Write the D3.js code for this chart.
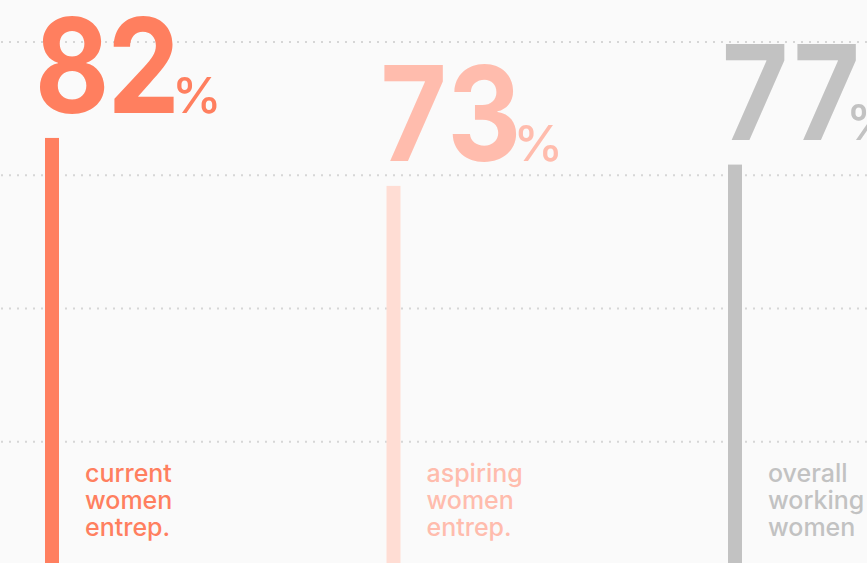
<!DOCTYPE html>
<html>
<head>
<meta charset="utf-8">
<script src="https://cdn.jsdelivr.net/npm/d3@7"></script>
<style>
  html, body { margin: 0; padding: 0; background: #fafafa; overflow: hidden; }
  svg { display: block; }
  text { font-family: Inter, "Noto Sans", sans-serif; }
  .big { font-variant-numeric: tabular-nums; font-feature-settings: "tnum"; }
</style>
</head>
<body>
<svg class="vis" width="867" height="563"></svg>
<script>
// data
const groups  = ["current", "aspiring", "overall"];
const labels  = [["current", "women", "entrep."], ["aspiring", "women", "entrep."], ["overall", "working", "women"]];
const values  = [82, 73, 77];
const gridTicks = [25, 50, 75, 100];

const barColors  = ["#ff7f5f", "#ffddd4", "#c2c2c2"];
const textColors = ["#ff7f5f", "#ffbcad", "#c2c2c2"];

const W = 867, H = 563;
const svg = d3.select("svg.vis");

const x = d3.scalePoint().domain(groups).range([45, 728]);
const y = d3.scaleLinear().domain([0, 100]).range([575, 42]);

const barW = 14;

// dotted grid
svg.append("g")
  .selectAll("line")
  .data(gridTicks)
  .join("line")
  .attr("x1", 1)
  .attr("x2", W)
  .attr("y1", d => y(d))
  .attr("y2", d => y(d))
  .attr("stroke", "#d6d6d6")
  .attr("stroke-width", 2)
  .attr("stroke-dasharray", "2,6");

const rows = groups.map((g, i) => ({ g, v: values[i], lab: labels[i], i }));

// bars
svg.append("g")
  .selectAll("rect")
  .data(rows)
  .join("rect")
  .attr("x", d => x(d.g))
  .attr("y", d => y(d.v))
  .attr("width", barW)
  .attr("height", d => y(0) - y(d.v))
  .attr("fill", d => barColors[d.i]);

// big numbers (squeezed a bit horizontally to get the narrow digits)
const num = svg.append("g")
  .selectAll("g")
  .data(rows)
  .join("g")
  .attr("transform", d => `translate(${x(d.g) - 10},${y(d.v) - 25})`);

num.append("text")
  .attr("class", "big")
  .attr("transform", "scale(0.87,1)")
  .attr("fill", d => textColors[d.i])
  .attr("font-size", 132)
  .attr("font-weight", 700)
  .attr("letter-spacing", -3)
  .text(d => d.v);

// "%" tucks under a trailing 7
num.append("text")
  .attr("x", d => String(d.v).endsWith("7") ? 128 : 137)
  .attr("fill", d => textColors[d.i])
  .attr("font-size", 50)
  .attr("font-weight", 500)
  .text("%");

// labels
svg.append("g")
  .selectAll("text")
  .data(rows)
  .join("text")
  .attr("x", d => x(d.g) + 40)
  .attr("y", 482)
  .attr("fill", d => textColors[d.i])
  .attr("font-size", 25)
  .attr("font-weight", 500)
  .selectAll("tspan")
  .data(d => d.lab.map((t, k) => ({ t, k, xx: x(d.g) + 40 })))
  .join("tspan")
  .attr("x", d => d.xx)
  .attr("dy", d => d.k === 0 ? 0 : 27)
  .text(d => d.t);
</script>
</body>
</html>
